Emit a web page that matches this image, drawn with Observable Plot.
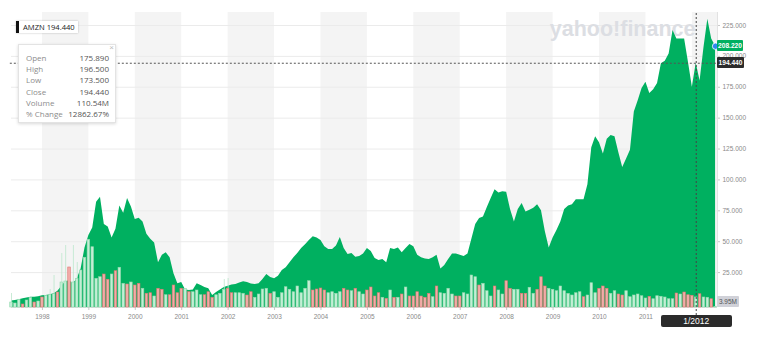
<!DOCTYPE html>
<html>
<head>
<meta charset="utf-8">
<script src="https://cdn.jsdelivr.net/npm/d3@7"></script>
<script src="https://cdn.jsdelivr.net/npm/@observablehq/plot@0.6"></script>
<style>
html, body { margin: 0; padding: 0; background: #fff; }
#wrap { position: relative; width: 758px; height: 352px; overflow: hidden; font-family: "Liberation Sans", Arial, sans-serif; }
#wrap svg { position: absolute; left: 0; top: 0; }
.ov { position: absolute; box-sizing: border-box; white-space: nowrap; }
.tip-row { position: absolute; left: 7px; right: 6px; height: 11px; line-height: 11px; font-family: "Open Sans", "Liberation Sans", sans-serif; font-size: 8px; }
.tip-row .l { position: absolute; left: 0; color: #8c8c8c; }
.tip-row .v { position: absolute; right: 0; color: #555; }
</style>
</head>
<body>
<div id="wrap"></div>
<script>
// ---------- data ----------
const prices = [
  2,2.5,3,3.8,4.5,5,5,5.5,6.2,6.5,
  7,7.8,10,14,17.5,18.5,16,20,28,45,
  55,61,82,86,64,62,53,60,79,73,
  85,78,68,69,66,56,52,49,33,39,
  41,37,24,16,17,11,10.5,11,16,14.5,
  13,12,6.5,9,11,13,14,15,15.4,16.5,
  17.5,17,15.8,15.4,16,19.5,23.5,21,20,22,
  26.7,29,33,37,40.5,44.5,47.5,51,54,53,
  51,46,43.7,43.7,46.5,53.5,44.5,39.6,40.4,37.5,
  38,40,44.5,42,36.4,34.8,35.6,33,44.5,43.7,
  45,41,44.5,47.7,46,39,37,36,35.6,37,
  39,28,30.7,35.6,40,40,39,38,40,52,
  64,68.7,70,77.7,85,92,89.5,90.5,90,76,
  66,76,81,74,75.5,77,80,75,58,45,
  53,59,66,76,79,80,84,84,84,96,
  126,135,130,121,133,136,135,122,110,117,
  124,155,164,174,179,170,173,178,194,196,
  202,221,214,214,214,195,175,194.44,180,207,
  230,214,208.22
];
// monthly volume, millions of shares
const volumes = [
  55,44,85,33,77,106,55,66,110,129,
  140,146,165,275,286,440,275,316,407,547,
  745,663,316,333,363,305,363,399,437,261,
  253,275,242,261,206,151,157,121,206,195,
  135,135,242,157,206,206,168,168,187,135,
  135,168,107,135,151,195,206,157,157,157,
  151,132,168,107,143,198,206,151,168,107,
  157,223,195,168,231,157,206,289,187,198,
  209,187,157,168,151,168,206,187,179,206,
  168,143,187,220,121,157,107,96,187,107,
  107,143,220,121,121,168,121,107,151,113,
  231,157,151,206,143,121,121,157,143,352,
  333,242,261,179,121,231,187,143,289,206,
  195,195,151,151,217,151,195,333,231,206,
  195,179,231,179,150,132,157,168,113,132,
  267,157,206,231,206,151,179,143,132,179,
  113,132,143,124,99,118,91,124,118,110,
  91,91,154,143,165,135,129,110.54,146,110,
  107,91,3.95
];
// g = up month, r = down month
const volDir = (
  "gggrggrgrg" + "ggrggrgggg" + "ggggrrgrgg" + "rgrrgrrgrr" + "grrrrgrggg" +
  "rrrgggrrgg" + "grrggggrgg" + "ggggggggrr" + "rrggggrrgr" + "ggrrrrgrgr" +
  "grgrrrrrrg" + "rggggrrggg" + "grgggrggrr" + "ggrrggrrrg" + "ggggggggrg" +
  "ggrrrggrrg" + "gggggrgggg" + "ggrgrrrgrg" + "grg"
).split("");
const faintIdx = [0, 10, 11, 13, 14, 16, 17, 55, 56];
const faintVol = [154, 198, 352, 594, 682, 682, 495, 308, 319];

const yearTicks  = [8, 20, 32, 44, 56, 68, 80, 92, 104, 116, 128, 140, 152, 164];
const yearLabels = ["1998","1999","2000","2001","2002","2003","2004","2005","2006","2007","2008","2009","2010","2011"];
const priceTicks = [25, 50, 75, 100, 125, 150, 175, 200, 225];
const shadeStart = [8, 32, 56, 80, 104, 128, 152, 176];
const shadeEnd   = [20, 44, 68, 92, 116, 140, 164, 182.5];

const ticker = "AMZN";
const crossIndex = 177;
const crossPrice = 194.44;
const crossLabel = "1/2012";
const lastPrice = 208.22;
const lastVolumeLabel = "3.95M";
const tipLabels = ["Open", "High", "Low", "Close", "Volume", "% Change"];
const tipValues = ["175.890", "196.500", "173.500", "194.440", "110.54M", "12862.67%"];

// ---------- tables ----------
const series = prices.map((p, i) => ({i, price: p}));
const vols = volumes.map((v, i) => ({i, v, dir: volDir[i]}));
const faint = faintIdx.map((i, k) => ({i, v: faintVol[k]}));
const shade = shadeStart.map((s, k) => ({start: s, end: shadeEnd[k]}));

const W = 758, H = 352, MT = 12, MB = 45, ML = 11, MR = 41;
const xDomain = [0, 182.5];
const yDomain = [-3.24, 235.5];
const GREEN = "#00b060";

const wrap = document.getElementById("wrap");

const mainPlot = Plot.plot({
  width: W, height: H,
  marginTop: MT, marginBottom: MB, marginLeft: ML, marginRight: MR,
  style: {background: "transparent", fontFamily: "Liberation Sans, Arial, sans-serif"},
  x: {domain: xDomain, axis: null, label: null},
  y: {domain: yDomain, axis: null, label: null},
  marks: [
    Plot.rect(shade, {x1: "start", x2: "end", fill: "#f4f4f4"}),
    Plot.ruleY(priceTicks, {stroke: "#ebebeb", strokeWidth: 1}),
    Plot.text(["yahoo!finance"], {frameAnchor: "top-right", dx: -22, dy: 17, textAnchor: "end",
      lineAnchor: "middle", fontSize: 21.5, fontWeight: "bold", fill: "#dcdee3",
      fontFamily: "Liberation Sans, Arial, sans-serif"}),
    Plot.areaY(series, {x: "i", y1: yDomain[0], y2: "price", fill: GREEN, curve: "linear"}),
    Plot.ruleY([yDomain[0]], {stroke: "#dedede"}),
    Plot.ruleX([xDomain[1]], {stroke: "#e2e2e2"}),
    Plot.axisY(priceTicks, {anchor: "right", label: null, tickFormat: d3.format(".3f"), tickSize: 2, tickPadding: 3,
      fontSize: 6.5, fill: "#8a8a8a", stroke: "#c8c8c8"}),
    Plot.axisX(yearTicks, {anchor: "bottom", label: null, tickFormat: d => yearLabels[yearTicks.indexOf(d)],
      tickSize: 3, tickPadding: 4, fontSize: 6.5, fill: "#8a8a8a", stroke: "#c8c8c8"})
  ]
});
wrap.appendChild(mainPlot);

const volPlot = Plot.plot({
  width: W, height: H,
  marginTop: MT, marginBottom: MB, marginLeft: ML, marginRight: MR,
  style: {background: "transparent"},
  x: {domain: xDomain, axis: null},
  y: {domain: [0, 295 * 11], axis: null},
  color: {type: "identity"},
  marks: [
    Plot.ruleX(faint, {x: "i", y1: 0, y2: "v", stroke: "#bfe8cf", strokeWidth: 1, strokeOpacity: 0.85}),
    Plot.rect(vols, {
      x1: d => d.i - 0.33, x2: d => d.i + 0.33, y1: 0, y2: "v",
      fill: d => d.dir === "g" ? "#c3eed5" : "#f2aba8",
      stroke: d => d.dir === "g" ? "#92d9ae" : "#df7873",
      strokeWidth: 0.6
    }),
    Plot.ruleX([crossIndex], {y1: -88, y2: 295 * 11, stroke: "#444", strokeWidth: 1, strokeDasharray: "2,2"})
  ]
});
wrap.appendChild(volPlot);

// price-scale overlays drawn on top of the bars
const overPlot = Plot.plot({
  width: W, height: H,
  marginTop: MT, marginBottom: MB, marginLeft: ML, marginRight: MR,
  style: {background: "transparent", overflow: "visible"},
  x: {domain: xDomain, axis: null},
  y: {domain: yDomain, axis: null},
  marks: [
    Plot.ruleY([crossPrice], {x1: -0.3, x2: xDomain[1], stroke: "#555", strokeWidth: 1, strokeDasharray: "2,2"}),
    Plot.dot([series[series.length - 1]], {x: "i", y: "price", r: 3.2, fill: "#2f88ee", stroke: "#fff", strokeWidth: 0.8})
  ]
});
wrap.appendChild(overPlot);

const xs = mainPlot.scale("x"), ys = mainPlot.scale("y");

function box(left, topPx, width, height, html, css) {
  const d = document.createElement("div");
  d.className = "ov";
  d.style.left = left + "px"; d.style.top = topPx + "px";
  d.style.width = width + "px"; d.style.height = height + "px";
  d.innerHTML = html;
  Object.assign(d.style, css || {});
  wrap.appendChild(d);
  return d;
}

// ticker label
box(16, 21, 62, 12, ticker + " " + crossPrice.toFixed(3), {
  background: "#fff", borderLeft: "3px solid #111", boxShadow: "0 0 2px rgba(0,0,0,0.25)",
  fontFamily: "'Open Sans', 'Liberation Sans', sans-serif", fontSize: "7.6px", color: "#222",
  lineHeight: "12px", paddingLeft: "4px"
});

// tooltip
const tip = box(18, 44, 98, 79, "", {
  background: "#fff", border: "1px solid #e3e3e3", boxShadow: "0 1px 3px rgba(0,0,0,0.15)"
});
tipLabels.forEach((lab, k) => {
  const r = document.createElement("div");
  r.className = "tip-row";
  r.style.top = (7 + k * 11.2) + "px";
  r.innerHTML = `<span class="l">${lab}</span><span class="v">${tipValues[k]}</span>`;
  tip.appendChild(r);
});
const cls = document.createElement("div");
cls.textContent = "\u00d7";
Object.assign(cls.style, {position: "absolute", right: "1px", top: "-2px", fontSize: "8px", color: "#bbb"});
tip.appendChild(cls);

// right-side value labels
const yLast = ys.apply(lastPrice);
box(717, yLast - 5.5, 26, 11, lastPrice.toFixed(3), {
  background: GREEN, color: "#fff", fontSize: "6.6px", fontWeight: "bold",
  lineHeight: "11px", textAlign: "center", borderRadius: "1px"
});
const yCross = ys.apply(crossPrice);
box(717, yCross - 5.5, 27, 11, crossPrice.toFixed(3), {
  background: "#2c2c2c", color: "#fff", fontSize: "6.6px", fontWeight: "bold",
  lineHeight: "11px", textAlign: "center", borderRadius: "1px"
});
box(717, 296, 22, 11, lastVolumeLabel, {
  background: "#d0d1d8", color: "#555", fontSize: "6.5px",
  lineHeight: "11px", textAlign: "center", borderRadius: "1px"
});

// crosshair date label
const xc = xs.apply(crossIndex);
box(xc - 35, 315, 71, 12, crossLabel, {
  background: "#2b2b2b", color: "#fff", fontSize: "8.5px",
  lineHeight: "12px", textAlign: "center", borderRadius: "2px"
});
</script>
</body>
</html>
